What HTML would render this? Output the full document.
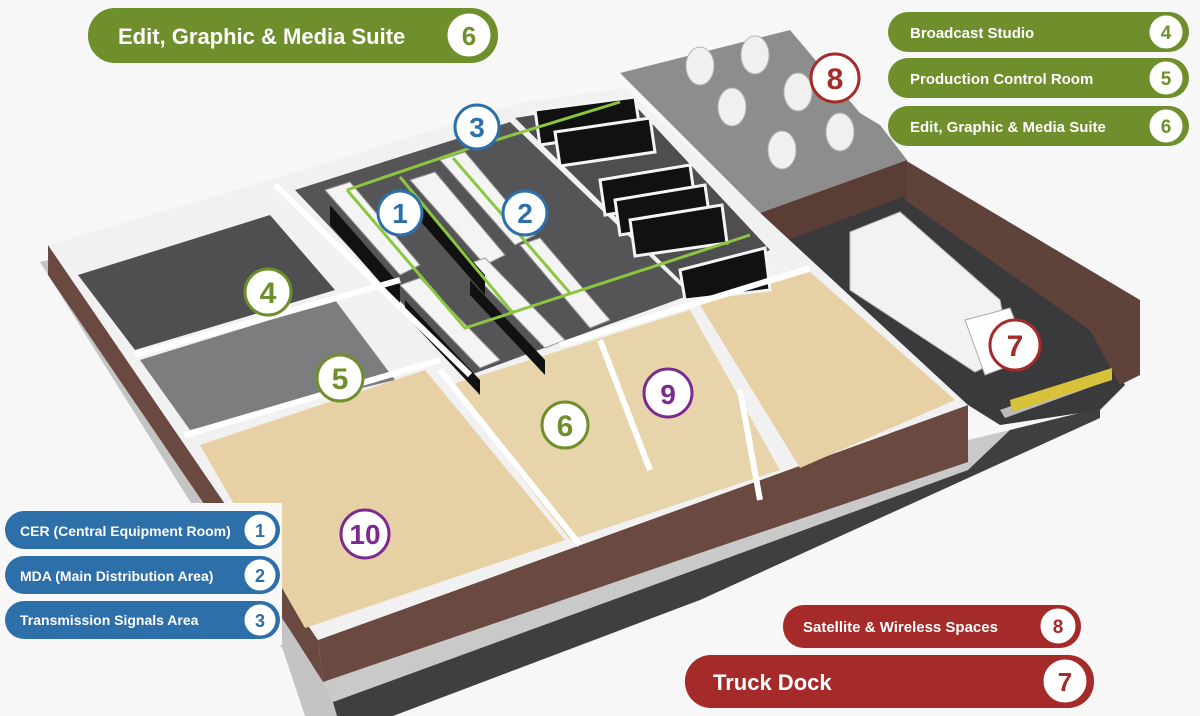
<!DOCTYPE html>
<html><head><meta charset="utf-8"><style>
html,body{margin:0;padding:0;background:#f7f7f7;}
svg{display:block;font-family:"Liberation Sans",sans-serif;}
.pt{fill:#fff;font-weight:bold;}
</style></head><body>
<svg width="1200" height="716" viewBox="0 0 1200 716">
<rect width="1200" height="716" fill="#f7f7f7"/>
<!-- left thin pavement strip -->
<polygon points="40,262 48,260 300,625 330,680 340,716 305,716 283,650" fill="#c4c4c4"/>
<!-- light strip below front wall -->
<polygon points="318,675 968,440 1010,430 968,470 333,702" fill="#c9c9c9"/>
<!-- truck dock -->
<polygon points="760,230 905,165 1090,330 1125,385 1100,410 1000,425 968,405" fill="#3a3a3d"/>
<!-- dark front road -->
<polygon points="333,702 700,568 968,470 1010,430 1100,408 1100,418 700,600 393,716 337,716" fill="#3f3f42"/>
<polygon points="1000,410 1110,370 1110,380 1005,418" fill="#bbbbbb"/>
<!-- right brick wall -->
<polygon points="905,160 1140,300 1140,375 1120,385 1090,330 905,200" fill="#5f423a"/>
<!-- roof -->
<polygon points="620,73 790,30 860,113 880,125 907,160 760,213" fill="#8d8d8d"/>
<polygon points="760,213 907,160 907,195 775,245" fill="#5a3e36"/>
<g fill="#f0f0f0" stroke="#b5b5b5">
<ellipse cx="700" cy="66" rx="14" ry="19"/><ellipse cx="755" cy="55" rx="14" ry="19"/>
<ellipse cx="732" cy="107" rx="14" ry="19"/><ellipse cx="798" cy="92" rx="14" ry="19"/>
<ellipse cx="782" cy="150" rx="14" ry="19"/><ellipse cx="840" cy="132" rx="14" ry="19"/>
</g>
<!-- truck -->
<polygon points="850,232 900,212 1000,300 1010,355 975,372 850,290" fill="#f2f2f2" stroke="#bbb"/>
<polygon points="965,320 1010,308 1030,358 985,375" fill="#fff" stroke="#aaa"/>
<polygon points="1010,400 1112,368 1112,380 1012,412" fill="#d8c23a"/>
<!-- building brick walls -->
<polygon points="48,245 48,275 290,630 323,682 318,640" fill="#6a4a40"/>
<polygon points="318,640 968,405 968,462 700,553 323,682" fill="#6a4a40"/>
<!-- building floor -->
<polygon points="48,245 277,178 520,103 625,88 968,405 318,640" fill="#f1f1f1"/>
<!-- studio -->
<polygon points="78,275 270,215 335,290 135,350" fill="#4f4f52"/>
<polygon points="140,360 335,300 395,380 190,430" fill="#7d7d80"/>
<!-- data center -->
<polygon points="295,190 510,122 690,295 470,375" fill="#555558"/>
<polygon points="515,118 630,100 770,250 690,290" fill="#4e4e50"/>
<!-- wood floors -->
<polygon points="200,445 425,370 565,540 305,628" fill="#e6d0a4"/>
<polygon points="450,385 690,310 780,470 570,540" fill="#e8d4aa"/>
<polygon points="700,305 810,272 955,400 800,468" fill="#e6d0a4"/>
<!-- racks -->
<g fill="#f4f4f4" stroke="#999">
<polygon points="325,190 350,182 420,265 400,275"/>
<polygon points="410,180 435,172 505,255 485,265"/>
<polygon points="440,160 465,152 535,235 515,245"/>
<polygon points="400,285 420,278 500,360 480,368"/>
<polygon points="465,265 485,258 565,340 545,348"/>
<polygon points="520,245 540,238 610,320 590,328"/>
</g>
<g fill="#111">
<polygon points="330,205 400,285 400,305 330,225"/>
<polygon points="415,195 485,275 485,295 415,215"/>
<polygon points="405,300 480,380 480,395 405,315"/>
<polygon points="470,280 545,360 545,375 470,295"/>
</g>
<g fill="#111" stroke="#f4f4f4" stroke-width="3">
<polygon points="535,110 635,97 640,130 540,145"/>
<polygon points="555,132 650,118 655,152 560,166"/>
<polygon points="600,180 690,165 695,200 605,215"/>
<polygon points="615,200 705,185 710,220 620,235"/>
<polygon points="630,220 722,205 727,243 635,256"/>
<polygon points="680,270 765,248 770,290 685,300"/>
</g>
<!-- green cables -->
<g fill="none" stroke="#8cc63f" stroke-width="3">
<polyline points="347,190 470,148 620,102"/>
<polyline points="347,190 465,328 750,235"/>
<polyline points="400,177 513,313"/>
<polyline points="453,158 570,293"/>
</g>
<!-- interior walls -->
<g stroke="#fff" stroke-width="6" fill="none">
<line x1="275" y1="185" x2="470" y2="375"/>
<line x1="135" y1="355" x2="400" y2="280"/>
<line x1="185" y1="435" x2="440" y2="360"/>
<line x1="440" y1="370" x2="580" y2="545"/>
<line x1="560" y1="345" x2="690" y2="305"/>
<line x1="690" y1="305" x2="810" y2="268"/>
<line x1="600" y1="340" x2="650" y2="470"/>
<line x1="740" y1="390" x2="760" y2="500"/>
</g>
<!-- left label backdrop -->
<rect x="0" y="503" width="282" height="142" fill="#f8f8f8"/>
<!-- map circles -->
<g stroke-width="3" font-weight="bold" text-anchor="middle">
<g stroke="#2d6fa8" fill="#fff"><circle cx="400" cy="213" r="22"/><circle cx="525" cy="213" r="22"/><circle cx="477" cy="127" r="22"/></g>
<g fill="#2d6fa8" font-size="28"><text x="400" y="223">1</text><text x="525" y="223">2</text><text x="477" y="137">3</text></g>
<g stroke="#6e8f2c" fill="#fff"><circle cx="268" cy="292" r="23"/><circle cx="340" cy="378" r="23"/><circle cx="565" cy="425" r="23"/></g>
<g fill="#6e8f2c" font-size="30"><text x="268" y="303">4</text><text x="340" y="389">5</text><text x="565" y="436">6</text></g>
<g stroke="#a52a2a" fill="#fff"><circle cx="1015" cy="345" r="25"/><circle cx="835" cy="78" r="24"/></g>
<g fill="#a52a2a" font-size="30"><text x="1015" y="356">7</text><text x="835" y="89">8</text></g>
<g stroke="#7b2b8f" fill="#fff"><circle cx="668" cy="393" r="24"/><circle cx="365" cy="534" r="24"/></g>
<g fill="#7b2b8f" font-size="28"><text x="668" y="404">9</text><text x="365" y="544">10</text></g>
</g>
<!-- pills -->
<g font-weight="bold">
<rect x="88" y="8" width="410" height="55" rx="27" fill="#6e8f2c"/>
<text x="118" y="44" class="pt" font-size="22">Edit, Graphic &amp; Media Suite</text>
<circle cx="469" cy="35" r="23" fill="#fff" stroke="#6e8f2c" stroke-width="3"/>
<text x="469" y="45" fill="#6e8f2c" font-size="26" text-anchor="middle">6</text>

<rect x="888" y="12" width="301" height="40" rx="20" fill="#6e8f2c"/>
<text x="910" y="38" class="pt" font-size="15">Broadcast Studio</text>
<circle cx="1166" cy="32" r="18" fill="#fff" stroke="#6e8f2c" stroke-width="3"/>
<text x="1166" y="39" fill="#6e8f2c" font-size="19" text-anchor="middle">4</text>
<rect x="888" y="58" width="301" height="40" rx="20" fill="#6e8f2c"/>
<text x="910" y="84" class="pt" font-size="15">Production Control Room</text>
<circle cx="1166" cy="78" r="18" fill="#fff" stroke="#6e8f2c" stroke-width="3"/>
<text x="1166" y="85" fill="#6e8f2c" font-size="19" text-anchor="middle">5</text>
<rect x="888" y="106" width="301" height="40" rx="20" fill="#6e8f2c"/>
<text x="910" y="132" class="pt" font-size="15">Edit, Graphic &amp; Media Suite</text>
<circle cx="1166" cy="126" r="18" fill="#fff" stroke="#6e8f2c" stroke-width="3"/>
<text x="1166" y="133" fill="#6e8f2c" font-size="19" text-anchor="middle">6</text>

<rect x="5" y="511" width="275" height="38" rx="19" fill="#2d6fa8"/>
<text x="20" y="536" class="pt" font-size="14">CER (Central Equipment Room)</text>
<circle cx="260" cy="530" r="17" fill="#fff" stroke="#2d6fa8" stroke-width="3"/>
<text x="260" y="537" fill="#2d6fa8" font-size="18" text-anchor="middle">1</text>
<rect x="5" y="556" width="275" height="38" rx="19" fill="#2d6fa8"/>
<text x="20" y="581" class="pt" font-size="14">MDA (Main Distribution Area)</text>
<circle cx="260" cy="575" r="17" fill="#fff" stroke="#2d6fa8" stroke-width="3"/>
<text x="260" y="582" fill="#2d6fa8" font-size="18" text-anchor="middle">2</text>
<rect x="5" y="601" width="275" height="38" rx="19" fill="#2d6fa8"/>
<text x="20" y="625" class="pt" font-size="14">Transmission Signals Area</text>
<circle cx="260" cy="620" r="17" fill="#fff" stroke="#2d6fa8" stroke-width="3"/>
<text x="260" y="627" fill="#2d6fa8" font-size="18" text-anchor="middle">3</text>

<rect x="783" y="605" width="298" height="43" rx="21" fill="#a52a2a"/>
<text x="803" y="632" class="pt" font-size="15">Satellite &amp; Wireless Spaces</text>
<circle cx="1058" cy="626" r="19" fill="#fff" stroke="#a52a2a" stroke-width="3"/>
<text x="1058" y="633" fill="#a52a2a" font-size="19" text-anchor="middle">8</text>
<rect x="685" y="655" width="409" height="53" rx="26" fill="#a52a2a"/>
<text x="713" y="690" class="pt" font-size="22">Truck Dock</text>
<circle cx="1065" cy="681" r="23" fill="#fff" stroke="#a52a2a" stroke-width="3"/>
<text x="1065" y="691" fill="#a52a2a" font-size="26" text-anchor="middle">7</text>
</g>
</svg>
</body></html>
